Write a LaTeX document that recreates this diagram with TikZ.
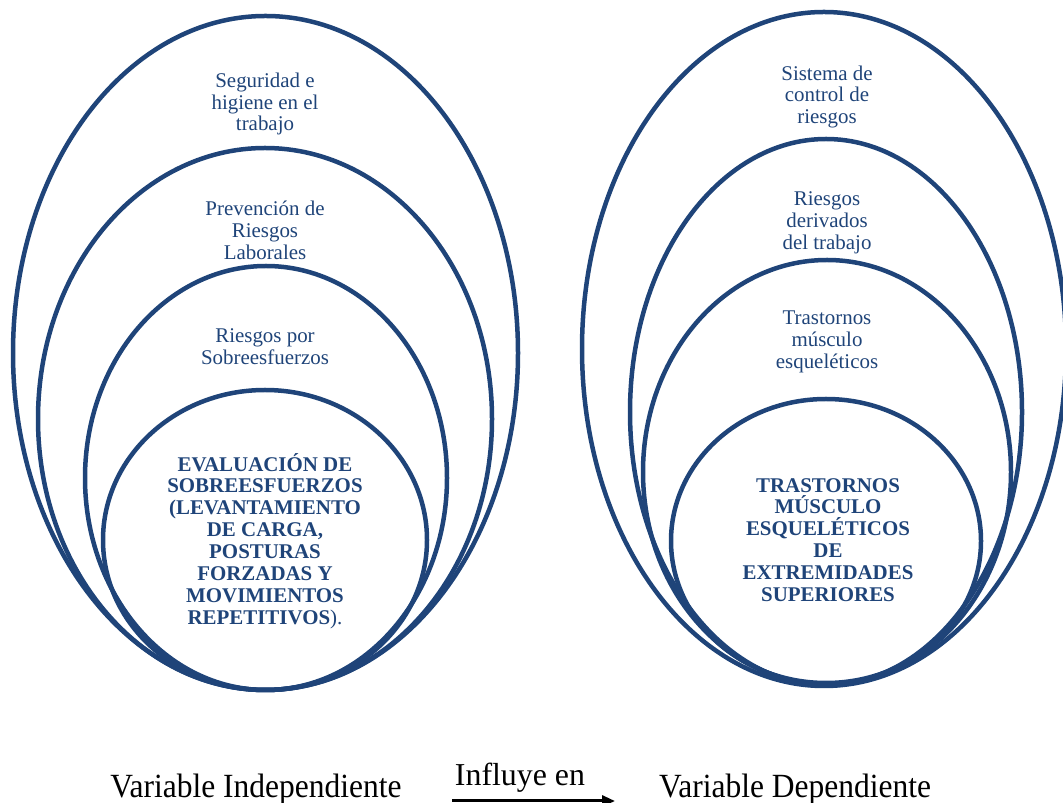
\documentclass[tikz,border=0pt]{standalone}
\usepackage{fontspec}
\setmainfont{Liberation Serif}
\usepackage{graphicx}
\usetikzlibrary{arrows.meta}
\definecolor{ovalcol}{RGB}{31,68,121}

\begin{document}
\begin{tikzpicture}[line join=bevel,
  oval/.style={draw=ovalcol,line width=4.5bp},
  ringtxt/.style={text=ovalcol,align=center,inner sep=0pt,font=\fontsize{21}{22}\selectfont},
  coretxt/.style={ringtxt,font=\fontsize{21}{22}\selectfont\bfseries},
  vartxt/.style={anchor=base,inner sep=0pt,font=\fontsize{34}{40}\selectfont},
  ]
  \useasboundingbox (0bp,0bp) rectangle (1063bp,803bp);
%%
  % Ovals: independiente
  \draw [oval] (265.5bp,450bp) ellipse (252.5bp and 337bp);
  \draw [oval] (265bp,384bp) ellipse (227bp and 271bp);
  \draw [oval] (266bp,325bp) ellipse (181bp and 212bp);
  \draw [oval] (265bp,263bp) ellipse (162bp and 150bp);
  % Ovals: dependiente
  \draw [oval] (824bp,454bp) ellipse (242bp and 337bp);
  \draw [oval] (826bp,391bp) ellipse (196bp and 273bp);
  \draw [oval] (827bp,331bp) ellipse (184bp and 212bp);
  \draw [oval] (826bp,262bp) ellipse (155bp and 142bp);
%
  % Labels: independiente
  \node [ringtxt] (segur) at (265bp,699bp) {Seguridad e\\higiene en el\\trabajo};
  \node [ringtxt] (preven) at (265bp,573bp) {Prevención de\\Riesgos\\Laborales};
  \node [ringtxt] (sobre) at (265bp,456bp) {Riesgos por\\Sobreesfuerzos};
  \node [coretxt] (evalua) at (265bp,262bp) {EVALUACIÓN DE\\SOBREESFUERZOS\\(LEVANTAMIENTO\\DE CARGA,\\POSTURAS\\FORZADAS Y\\MOVIMIENTOS\\REPETITIVOS\textmd{).}};
  % Labels: dependiente
  \node [ringtxt] (sistema) at (827bp,706bp) {Sistema de\\control de\\riesgos};
  \node [ringtxt] (deriv) at (827bp,580bp) {Riesgos\\derivados\\del trabajo};
  \node [ringtxt] (musc) at (827bp,461bp) {Trastornos\\músculo\\esqueléticos};
  \node [coretxt] (tme) at (828bp,263bp) {TRASTORNOS\\MÚSCULO\\ESQUELÉTICOS\\DE\\EXTREMIDADES\\SUPERIORES};
%
  % Variables
  \node [vartxt] (vind) at (256bp,6bp) {\scalebox{0.93}[1]{Variable Independiente}};
  \node [vartxt] (vdep) at (795bp,6bp) {\scalebox{0.93}[1]{Variable Dependiente}};
  \node [vartxt,font=\fontsize{32}{38}\selectfont] (influ) at (520bp,18bp) {Influye en};
  \coordinate (infA) at (452bp,2bp);
  \coordinate (infB) at (615bp,2bp);
  \draw [-{Triangle[length=13bp,width=11bp]},line width=3bp] (infA) -- (infB);
%
\end{tikzpicture}
\end{document}
